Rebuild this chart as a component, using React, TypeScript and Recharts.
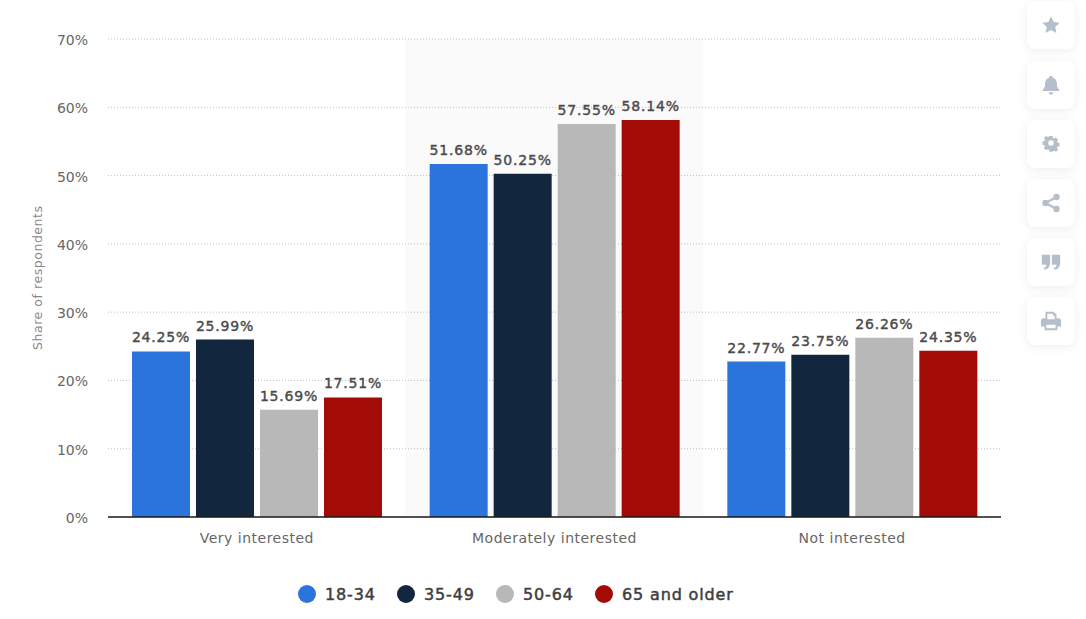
import {
  Bar,
  BarChart,
  CartesianGrid,
  LabelList,
  Legend,
  ReferenceArea,
  XAxis,
  YAxis,
} from "recharts";

const FONT = "'DejaVu Sans', sans-serif";

const categories = ["Very interested", "Moderately interested", "Not interested"];
const age18to34 = [24.25, 51.68, 22.77];
const age35to49 = [25.99, 50.25, 23.75];
const age50to64 = [15.69, 57.55, 26.26];
const age65plus = [17.51, 58.14, 24.35];
const yTicks = [0, 10, 20, 30, 40, 50, 60, 70];

const seriesNames = ["18-34", "35-49", "50-64", "65 and older"];
const seriesColors = ["#2a74dc", "#12263d", "#b8b8b8", "#a30b07"];
const seriesValues = [age18to34, age35to49, age50to64, age65plus];

const data = categories.map((name, i) => ({
  name,
  s0: age18to34[i],
  s1: age35to49[i],
  s2: age50to64[i],
  s3: age65plus[i],
}));

// side toolbar icons, not part of the chart itself
const ICON_COLOR = "#b5bfcc";
const icons = [
  <path d="M12 2.5l2.9 6.2 6.6.8-4.9 4.6 1.3 6.7L12 17.5l-5.9 3.3 1.3-6.7L2.5 9.5l6.6-.8z" />,
  <path d="M12 2a2 2 0 0 1 2 2c3 .8 4.5 3.4 4.5 6.5 0 3.6 1 5 2.5 6.5v1.5H3V17c1.5-1.5 2.500-2.900 2.500-6.500C5.500 7.400 7 4.800 10 4a2 2 0 0 1 2-2zM9.500 20h5a2.500 2.500 0 0 1-5 0z" />,
  <path
    fillRule="evenodd"
    d="M10 3h4l.5 2.500 1.700.7 2.200-1.400 2.800 2.800-1.400 2.200.7 1.700 2.500.5v4l-2.500.5-.7 1.700 1.400 2.200-2.800 2.800-2.200-1.400-1.700.7L14 23h-4l-.5-2.500-1.700-.7-2.200 1.400-2.800-2.800 1.400-2.200-.7-1.700L1 14v-4l2.500-.5.700-1.700-1.400-2.200 2.800-2.800 2.200 1.400 1.700-.7zM12 8.500a3.500 3.500 0 1 0 0 7 3.500 3.500 0 0 0 0-7z"
    transform="translate(1.800 0.800) scale(0.85)"
  />,
  <g>
    <circle cx="18" cy="5.500" r="3.500" />
    <circle cx="18" cy="18.500" r="3.500" />
    <circle cx="6" cy="12" r="3.500" />
    <path d="M6 12L18 5.500M6 12l12 6.500" stroke={ICON_COLOR} strokeWidth="2.500" />
  </g>,
  <path d="M2 4h9v9c0 4-2 6.500-6 7.500l-1-2c2-.7 3-2 3-3.500H2zM13 4h9v9c0 4-2 6.500-6 7.500l-1-2c2-.7 3-2 3-3.500h-5z" />,
  <path
    fillRule="evenodd"
    d="M6 2h9l3 3v4h2a3 3 0 0 1 3 3v6h-4v4H5v-4H1v-6a3 3 0 0 1 3-3h2zm2 2v6h8V6h-2V4zM7 16v4h10v-4z"
  />,
];
const cardTops = [1, 61, 120, 179, 238, 297];

function LegendContent() {
  return (
    <div
      style={{
        display: "flex",
        alignItems: "center",
        height: 30,
        paddingLeft: 298,
        fontFamily: FONT,
        fontSize: 16,
        letterSpacing: 0.85,
        WebkitTextStroke: "0.5px #3f3f3f",
        color: "#3f3f3f",
      }}
    >
      {seriesNames.map((name, i) => (
        <span key={name} style={{ display: "flex", alignItems: "center", width: i < 3 ? 99 : "auto" }}>
          <span
            style={{
              width: 18,
              height: 18,
              borderRadius: "50%",
              background: seriesColors[i],
              marginRight: 9,
            }}
          />
          {name}
        </span>
      ))}
    </div>
  );
}

export default function App() {
  return (
    <div style={{ position: "absolute", left: 0, top: 0, width: 1086, height: 619, background: "#fff" }}>
      <BarChart
        width={1086}
        height={619}
        data={data}
        margin={{ top: 39, right: 85, bottom: 10, left: 0 }}
        barSize={58}
        barGap={6}
      >
        <CartesianGrid vertical={false} stroke="#c4c4c4" strokeDasharray="1 2" />
        <ReferenceArea
          x1="Moderately interested"
          x2="Moderately interested"
          fill="#000"
          fillOpacity={0.02}
          stroke="none"
        />
        <XAxis
          dataKey="name"
          height={62}
          tickLine={false}
          axisLine={{ stroke: "#1a1a1a", strokeWidth: 1.5 }}
          tick={{ fontFamily: FONT, fontSize: 14, fill: "#666", letterSpacing: 0.5 }}
          tickMargin={10}
        />
        <YAxis
          width={108}
          domain={[0, 70]}
          ticks={yTicks}
          tickFormatter={(v) => `${v}%`}
          tickLine={false}
          axisLine={false}
          tick={{ fontFamily: FONT, fontSize: 14, fill: "#666", dy: 1 }}
          tickMargin={14}
          label={{
            value: "Share of respondents",
            angle: -90,
            position: "insideLeft",
            dx: 33,
            dy: 72,
            style: { fontFamily: FONT, fontSize: 12.5, fill: "#888", letterSpacing: 0.55 },
          }}
        />
        <Legend verticalAlign="bottom" height={30} content={<LegendContent />} />
        {seriesValues.map((_, i) => (
          <Bar key={i} dataKey={`s${i}`} name={seriesNames[i]} fill={seriesColors[i]} isAnimationActive={false}>
            <LabelList
              position="top"
              offset={9}
              formatter={(v: number) => `${v.toFixed(2)}%`}
              style={{
                fontFamily: FONT,
                fontSize: 14,
                fill: "#4a4a4a",
                stroke: "#4a4a4a",
                strokeWidth: 0.4,
                letterSpacing: 0.8,
              }}
            />
          </Bar>
        ))}
      </BarChart>
      {cardTops.map((top, i) => (
        <div
          key={top}
          style={{
            position: "absolute",
            left: 1027,
            top,
            width: 48,
            height: 48,
            borderRadius: 8,
            background: "#fff",
            boxShadow: "0 2px 10px rgba(120,135,160,0.14)",
            display: "flex",
            alignItems: "center",
            justifyContent: "center",
          }}
        >
          <svg width={22} height={22} viewBox="0 0 24 24" fill={ICON_COLOR}>
            {icons[i]}
          </svg>
        </div>
      ))}
    </div>
  );
}
